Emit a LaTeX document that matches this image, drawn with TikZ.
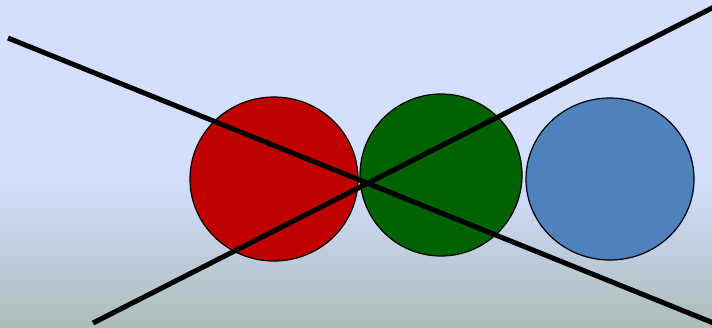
\documentclass[tikz,border=0pt]{standalone}
\usetikzlibrary{shapes.geometric}
\definecolor{skytop}{RGB}{212,222,255}
\definecolor{skybot}{RGB}{172,189,186}
\definecolor{balred}{RGB}{192,0,0}
\definecolor{balgreen}{RGB}{0,98,0}
\definecolor{balblue}{RGB}{79,129,189}
\begin{document}
\begin{tikzpicture}[x=1pt, y=-1pt, line join=round,
    ball/.style={ellipse, draw=black, line width=1.2pt, inner sep=0pt}]
    % fondo degradado
    \useasboundingbox (0,0) rectangle (712,327);
    \fill[skytop] (0,0) rectangle (712,176);
    \shade[top color=skytop, bottom color=skybot] (0,175) rectangle (712,327);

    % bolas
    \node[ball, fill=balred, minimum width=168pt, minimum height=164pt] (rojo) at (274,179) {};
    \node[ball, fill=balgreen, minimum width=162pt, minimum height=162pt] (verde) at (441,175) {};
    \node[ball, fill=balblue, minimum width=168pt, minimum height=162pt] (azul) at (610,179) {};

    % lineas cruzadas
    \begin{scope}
        \clip (0,0) rectangle (712,327);
        \draw[line width=5pt] (8,38) -- (716,324);
        \draw[line width=5pt] (93,323) -- (716,6);
    \end{scope}
\end{tikzpicture}
\end{document}
